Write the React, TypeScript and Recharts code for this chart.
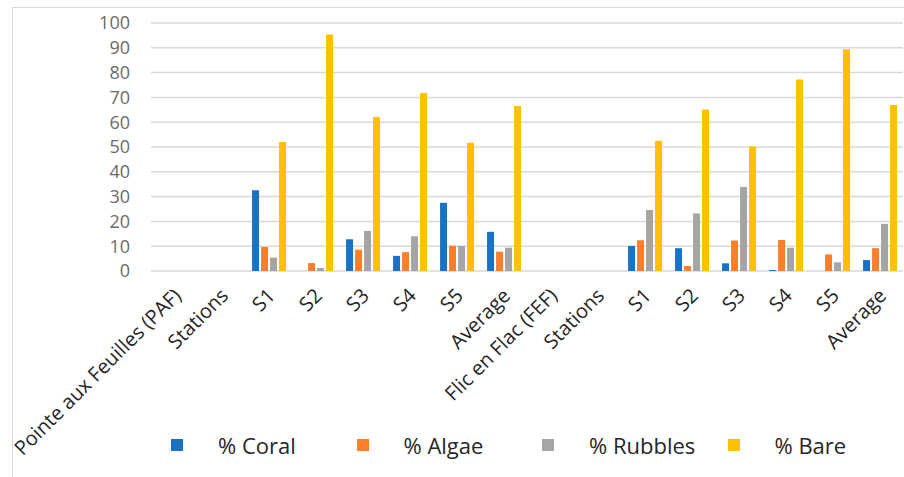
import React from "react";
import { Bar, BarChart, CartesianGrid, XAxis, YAxis } from "recharts";

// Category axis: site header, "Stations" row, five stations and the mean, for each site.
const categories = [
  "Pointe aux Feuilles (PAF)",
  "Stations",
  "S1",
  "S2",
  "S3",
  "S4",
  "S5",
  "Average",
  "Flic en Flac (FEF)",
  "Stations",
  "S1",
  "S2",
  "S3",
  "S4",
  "S5",
  "Average",
];

const coral = [null, null, 32.6, 0, 12.8, 6.1, 27.5, 15.8, null, null, 10.1, 9.2, 3.1, 0.4, 0, 4.4];
const algae = [null, null, 9.7, 3.2, 8.6, 7.6, 10.2, 7.8, null, null, 12.4, 2.0, 12.3, 12.5, 6.7, 9.2];
const rubbles = [null, null, 5.4, 1.2, 16.2, 14.0, 10.1, 9.4, null, null, 24.6, 23.2, 33.9, 9.4, 3.5, 19.0];
const bare = [null, null, 52.0, 95.4, 62.1, 71.8, 51.7, 66.5, null, null, 52.5, 65.1, 50.2, 77.2, 89.4, 66.9];

const yTicks = [0, 10, 20, 30, 40, 50, 60, 70, 80, 90, 100];

const SERIES = [
  { key: "coral", name: "% Coral", color: "#1A72C6" },
  { key: "algae", name: "% Algae", color: "#FD7F2C" },
  { key: "rubbles", name: "% Rubbles", color: "#A5A5A5" },
  { key: "bare", name: "% Bare", color: "#FFC000" },
];

const data = categories.map((name, i) => ({
  id: i,
  name,
  coral: coral[i],
  algae: algae[i],
  rubbles: rubbles[i],
  bare: bare[i],
}));

const FONT = "'Open Sans', sans-serif";

function CategoryTick(props: any) {
  const { x, y, payload } = props;
  return (
    <g transform={`translate(${x + 3},${y})`}>
      <text
        transform="rotate(-45)"
        textAnchor="end"
        dy="0.35em"
        fill="#262626"
        fontSize={20}
        fontFamily={FONT}
      >
        {categories[payload.value]}
      </text>
    </g>
  );
}

// Legend drawn as plain HTML under the plot so it doesn't shrink the chart area.
function ChartLegend() {
  return (
    <div
      style={{
        position: "absolute",
        left: 171,
        top: 429,
        display: "flex",
        fontFamily: FONT,
        fontSize: 22,
        lineHeight: "32px",
        color: "#262626",
      }}
    >
      {SERIES.map((s) => (
        <div key={s.key} style={{ width: 185.5, display: "flex", alignItems: "center" }}>
          <span style={{ width: 12, height: 12, background: s.color, marginRight: 35 }} />
          <span>{s.name}</span>
        </div>
      ))}
    </div>
  );
}

export default function App() {
  return (
    <div
      style={{
        position: "absolute",
        left: 0,
        top: 0,
        width: 904,
        height: 477,
        background: "#fff",
        overflow: "hidden",
      }}
    >
      <div
        style={{
          position: "absolute",
          left: 12,
          top: 7,
          width: 900,
          height: 480,
          borderLeft: "1.5px solid #d9d9d9",
          borderTop: "1.5px solid #d9d9d9",
        }}
      />
      <div style={{ position: "absolute", left: 0, top: 0 }}>
        <BarChart
          width={904}
          height={477}
          data={data}
          margin={{ top: 23, right: 1, bottom: 0, left: 0 }}
          barCategoryGap="15%"
          barGap={2}
        >
          <CartesianGrid vertical={false} stroke="#d9d9d9" strokeWidth={1.5} />
          <XAxis
            dataKey="id"
            interval={0}
            tickLine={false}
            axisLine={false}
            height={206}
            tick={<CategoryTick />}
            tickMargin={15}
          />
          <YAxis
            width={151}
            domain={[0, 100]}
            ticks={yTicks}
            interval={0}
            tickLine={false}
            axisLine={false}
            tickMargin={15}
            tick={{ fontSize: 18, fill: "#6b6b6b", fontFamily: FONT }}
          />
          {SERIES.map((s) => (
            <Bar key={s.key} dataKey={s.key} name={s.name} fill={s.color} isAnimationActive={false} />
          ))}
        </BarChart>
      </div>
      <ChartLegend />
    </div>
  );
}
